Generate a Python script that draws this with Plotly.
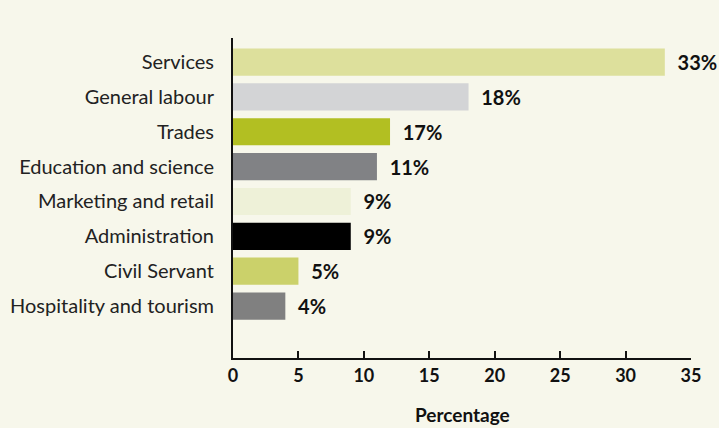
import plotly.graph_objects as go

categories = ["Hospitality and tourism", "Civil Servant", "Administration",
              "Marketing and retail", "Education and science", "Trades",
              "General labour", "Services"]
bar_values = [4, 5, 9, 9, 11, 12, 18, 33]
value_labels = ["4%", "5%", "9%", "9%", "11%", "17%", "18%", "33%"]
bar_colors = ["#808080", "#cbd16a", "#000000", "#eef1d8", "#818285",
              "#b2bf22", "#d3d4d6", "#dde09c"]
x_ticks = [0, 5, 10, 15, 20, 25, 30, 35]
x_title = "Percentage"

BG = "#f7f7eb"
FONT = "Lato, 'Open Sans', sans-serif"

fig = go.Figure(go.Bar(
    y=list(range(len(categories))),
    x=bar_values,
    orientation="h",
    marker=dict(color=bar_colors, line=dict(width=0)),
    width=0.78,
    text=["  " + t for t in value_labels],
    textposition="outside",
    textfont=dict(family=FONT, size=20, color="#111111", weight="bold"),
    cliponaxis=False,
    hoverinfo="skip",
))

fig.update_layout(
    width=719, height=428,
    paper_bgcolor=BG, plot_bgcolor=BG,
    margin=dict(l=233, r=28, t=38, b=70),
    showlegend=False,
    font=dict(family=FONT, color="#222222"),
    xaxis=dict(
        range=[0, 35], tickvals=x_ticks, ticktext=[str(v) for v in x_ticks],
        showgrid=False, zeroline=False, automargin=False,
        showline=True, linecolor="#111111", linewidth=2,
        ticks="inside", ticklen=7, tickwidth=2, tickcolor="#111111",
        tickfont=dict(family=FONT, size=18, color="#111111", weight="bold"),
        fixedrange=True,
    ),
    yaxis=dict(
        range=[-1.49, 7.69],
        tickvals=list(range(len(categories))), ticktext=categories,
        showgrid=False, zeroline=False, automargin=False,
        showline=True, linecolor="#111111", linewidth=2,
        ticks="", ticklabelstandoff=13,
        tickfont=dict(family=FONT, size=20, color="#222222"),
        fixedrange=True,
    ),
    annotations=[dict(
        text=x_title, xref="x", yref="paper", x=17.5, y=-0.178,
        xanchor="center", yanchor="middle", showarrow=False,
        font=dict(family=FONT, size=19, color="#111111", weight="bold"),
    )],
)

fig.write_html(
    "out.html",
    config={"displayModeBar": False},
    post_script="document.body.style.margin='0';document.body.style.background='%s';" % BG,
)
